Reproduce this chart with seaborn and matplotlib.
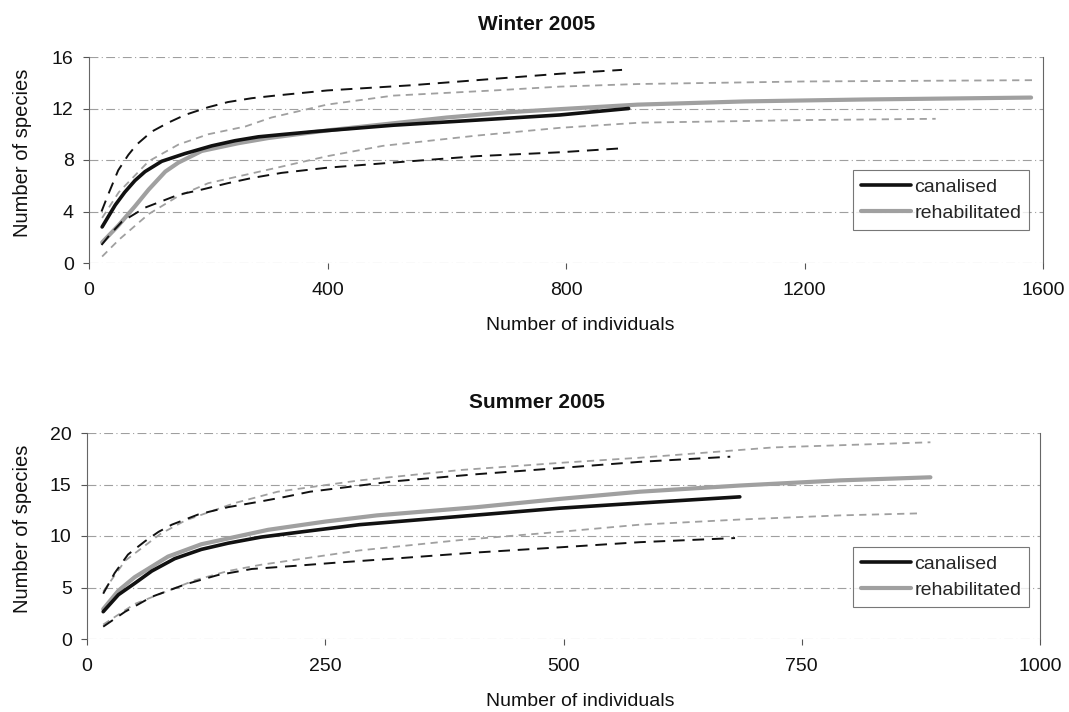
import matplotlib
matplotlib.use("Agg")
import matplotlib.pyplot as plt
import seaborn as sns
from matplotlib.lines import Line2D

# ---------------- data ----------------
# Winter 2005
w_can_x = [22, 44, 60, 77, 94, 122, 161, 206, 245, 284, 329, 376, 510, 651, 790, 905]
w_can_y = [2.8, 4.5, 5.5, 6.4, 7.1, 7.9, 8.5, 9.1, 9.5, 9.8, 10.0, 10.2, 10.7, 11.1, 11.5, 12.0]
w_can_up_x = [21, 32, 49, 66, 80, 105, 133, 161, 200, 233, 273, 312, 399, 539, 678, 790, 894]
w_can_up_y = [4.0, 5.3, 7.2, 8.4, 9.2, 10.2, 10.9, 11.5, 12.1, 12.5, 12.8, 13.0, 13.4, 13.8, 14.3, 14.7, 15.0]
w_can_lo_x = [21, 35, 55, 94, 122, 150, 189, 233, 273, 323, 399, 510, 651, 790, 891]
w_can_lo_y = [1.4, 2.2, 3.2, 4.3, 4.8, 5.3, 5.7, 6.2, 6.6, 7.0, 7.4, 7.8, 8.3, 8.6, 8.9]

w_reh_x = [22, 49, 77, 100, 128, 150, 189, 250, 300, 400, 500, 600, 700, 790, 920, 1100, 1300, 1580]
w_reh_y = [1.6, 2.9, 4.4, 5.7, 7.1, 7.8, 8.7, 9.3, 9.7, 10.3, 10.8, 11.3, 11.7, 11.95, 12.3, 12.55, 12.7, 12.85]
w_reh_up_x = [22, 50, 100, 150, 200, 262, 306, 399, 510, 678, 790, 920, 1200, 1584]
w_reh_up_y = [3.5, 5.5, 7.9, 9.2, 10.0, 10.6, 11.3, 12.3, 13.0, 13.4, 13.7, 13.9, 14.1, 14.2]
w_reh_lo_x = [22, 50, 100, 150, 200, 315, 400, 493, 651, 790, 924, 1200, 1420]
w_reh_lo_y = [0.5, 1.8, 3.8, 5.2, 6.2, 7.4, 8.3, 9.1, 9.9, 10.5, 10.9, 11.1, 11.2]

# Summer 2005
s_can_x = [17, 33, 50, 68, 92, 120, 148, 183, 225, 286, 391, 496, 580, 685]
s_can_y = [2.65, 4.3, 5.4, 6.6, 7.8, 8.7, 9.3, 9.9, 10.4, 11.1, 11.9, 12.7, 13.2, 13.8]
s_can_up_x = [17, 29, 43, 61, 75, 89, 117, 148, 179, 208, 234, 321, 409, 496, 580, 675]
s_can_up_y = [4.4, 6.4, 8.2, 9.5, 10.4, 11.1, 12.1, 12.8, 13.3, 13.8, 14.3, 15.3, 16.0, 16.6, 17.2, 17.7]
s_can_lo_x = [17, 40, 68, 103, 137, 173, 218, 260, 321, 409, 496, 580, 680]
s_can_lo_y = [1.2, 2.65, 4.1, 5.3, 6.2, 6.8, 7.1, 7.4, 7.8, 8.4, 8.9, 9.4, 9.8]

s_reh_x = [17, 33, 50, 85, 120, 155, 190, 250, 304, 409, 496, 580, 685, 790, 885]
s_reh_y = [2.9, 4.7, 6.0, 8.0, 9.2, 9.9, 10.6, 11.4, 12.0, 12.8, 13.6, 14.3, 14.9, 15.4, 15.7]
s_reh_up_x = [17, 40, 77, 103, 155, 200, 286, 391, 496, 580, 720, 885]
s_reh_up_y = [4.6, 7.6, 10.2, 11.5, 13.2, 14.3, 15.4, 16.4, 17.1, 17.6, 18.6, 19.1]
s_reh_lo_x = [17, 50, 113, 148, 182, 286, 391, 496, 580, 685, 790, 874]
s_reh_lo_y = [1.4, 3.4, 5.7, 6.6, 7.2, 8.6, 9.6, 10.4, 11.1, 11.6, 12.0, 12.2]

titles = ["Winter 2005", "Summer 2005"]
legend_labels = ["canalised", "rehabilitated"]
w_xticks = [0, 400, 800, 1200, 1600]
w_yticks = [0, 4, 8, 12, 16]
s_xticks = [0, 250, 500, 750, 1000]
s_yticks = [0, 5, 10, 15, 20]

# ---------------- styling ----------------
sns.set_theme(style="white")
plt.rcParams["font.family"] = ["Liberation Sans", "DejaVu Sans"]

BLACK = "#111111"
GRAY = "#a0a0a0"

W, H = 1069, 712
fig = plt.figure(figsize=(W / 100, H / 100), dpi=100)
ax1 = fig.add_axes([89 / W, 1 - 263 / H, (1043 - 89) / W, (263 - 57) / H])
ax2 = fig.add_axes([87 / W, 1 - 639 / H, (1040 - 87) / W, (639 - 433) / H])


def draw(ax, can, can_up, can_lo, reh, reh_up, reh_lo):
    kw = dict(ax=ax, sort=False, solid_capstyle="round")
    sns.lineplot(x=reh[0], y=reh[1], color=GRAY, lw=3.0, **kw)
    sns.lineplot(x=reh_up[0], y=reh_up[1], color=GRAY, lw=1.3,
                 linestyle=(0, (4, 3)), **kw)
    sns.lineplot(x=reh_lo[0], y=reh_lo[1], color=GRAY, lw=1.3,
                 linestyle=(0, (4, 3)), **kw)
    sns.lineplot(x=can[0], y=can[1], color=BLACK, lw=2.6, **kw)
    sns.lineplot(x=can_up[0], y=can_up[1], color=BLACK, lw=1.4,
                 linestyle=(0, (6, 4)), **kw)
    sns.lineplot(x=can_lo[0], y=can_lo[1], color=BLACK, lw=1.4,
                 linestyle=(0, (6, 4)), **kw)


draw(ax1, (w_can_x, w_can_y), (w_can_up_x, w_can_up_y), (w_can_lo_x, w_can_lo_y),
     (w_reh_x, w_reh_y), (w_reh_up_x, w_reh_up_y), (w_reh_lo_x, w_reh_lo_y))
draw(ax2, (s_can_x, s_can_y), (s_can_up_x, s_can_up_y), (s_can_lo_x, s_can_lo_y),
     (s_reh_x, s_reh_y), (s_reh_up_x, s_reh_up_y), (s_reh_lo_x, s_reh_lo_y))

title_y = [1 - 24 / H, 1 - 402 / H]
axes_px = [(89, 1043, 57, 263), (87, 1040, 433, 639)]
xlabel_cy = [326, 701]
legend_cy = [200, 577]

for i, (ax, xt, yt) in enumerate([(ax1, w_xticks, w_yticks), (ax2, s_xticks, s_yticks)]):
    l, r, t, b = axes_px[i]
    ax.set_xlim(xt[0], xt[-1])
    ax.set_ylim(yt[0], yt[-1])
    ax.set_xticks(xt)
    ax.set_yticks(yt)
    ax.set_xticklabels([str(v) for v in xt], fontsize=14)
    ax.set_yticklabels([str(v) for v in yt], fontsize=14)
    fig.text(537 / W, title_y[i], titles[i], ha="center", va="center",
             fontsize=15, fontweight="bold", color="#111111")
    ax.set_xlabel("Number of individuals", fontsize=14, color="#111111")
    ax.set_ylabel("Number of species", fontsize=14.5, color="#111111")
    ax.xaxis.set_label_coords((580 - l) / (r - l), -(xlabel_cy[i] - b) / (b - t))
    ax.xaxis.label.set_verticalalignment("center")
    ax.yaxis.set_label_coords((23 - l) / (r - l), 0.536)
    ax.yaxis.label.set_verticalalignment("center")
    ax.grid(axis="y", color="#777777", lw=0.8, linestyle=(0, (8, 3, 1, 3)), alpha=0.7)
    ax.set_axisbelow(True)
    for s in ["left", "right"]:
        ax.spines[s].set_visible(True)
        ax.spines[s].set_color("#666666")
        ax.spines[s].set_linewidth(0.8)
    ax.spines["top"].set_visible(False)
    ax.spines["bottom"].set_visible(False)
    ax.tick_params(axis="both", which="both", direction="out", length=4,
                   width=0.8, color="#555555", labelcolor="#111111")
    ax.tick_params(axis="x", bottom=True, pad=10)
    ax.tick_params(axis="y", left=True, pad=7)
    handles = [Line2D([], [], color=BLACK, lw=2.6),
               Line2D([], [], color=GRAY, lw=3.0)]
    leg = ax.legend(handles, legend_labels, loc="center right",
                    bbox_to_anchor=((1029 - l) / (r - l), (b - legend_cy[i]) / (b - t)),
                    fontsize=14, frameon=True,
                    fancybox=False, edgecolor="#555555", handlelength=2.6,
                    handletextpad=0.15, borderpad=0.4, labelspacing=0.45,
                    borderaxespad=0)
    leg.get_frame().set_linewidth(0.8)

fig.savefig("out.png", dpi=100)
